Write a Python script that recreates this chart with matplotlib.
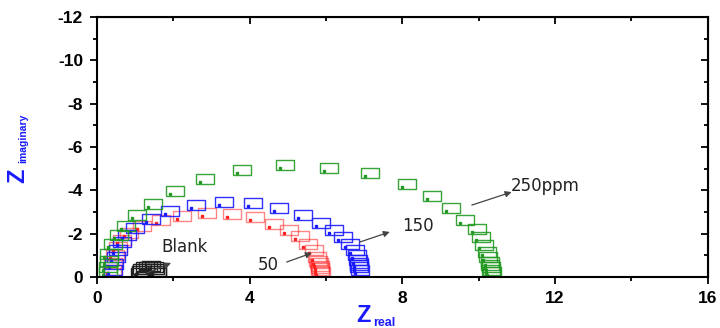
import matplotlib.pyplot as plt
from matplotlib.transforms import offset_copy
from matplotlib.ticker import MultipleLocator

plt.rcParams['axes.unicode_minus'] = False

# Nyquist data (Z_real, Z_imaginary)
blank_re = [1.00, 1.02, 1.06, 1.12, 1.20, 1.28, 1.35, 1.40, 1.43, 1.45]
blank_im = [-0.05, -0.15, -0.24, -0.30, -0.34, -0.35, -0.32, -0.25, -0.15, -0.05]

c50_re = [0.26, 0.29, 0.34, 0.42, 0.52, 0.71, 1.05, 1.54, 2.09, 2.75, 3.40, 4.01,
          4.50, 4.90, 5.18, 5.39, 5.55, 5.63, 5.66, 5.68, 5.70, 5.71, 5.72, 5.73]
c50_im = [-0.18, -0.51, -0.88, -1.25, -1.57, -1.89, -2.22, -2.49, -2.68, -2.82, -2.77, -2.63,
          -2.31, -2.03, -1.75, -1.38, -1.11, -0.78, -0.62, -0.51, -0.38, -0.28, -0.18, -0.09]

c150_re = [0.29, 0.31, 0.37, 0.42, 0.52, 0.65, 0.86, 1.28, 1.78, 2.46, 3.19, 3.95,
           4.63, 5.26, 5.73, 6.07, 6.31, 6.49, 6.62, 6.68, 6.70, 6.72, 6.73, 6.74, 6.75]
c150_im = [-0.18, -0.46, -0.78, -1.11, -1.48, -1.80, -2.12, -2.54, -2.91, -3.18, -3.32, -3.28,
           -3.05, -2.72, -2.35, -2.03, -1.71, -1.38, -1.11, -0.88, -0.65, -0.52, -0.42, -0.30, -0.18]

c250_re = [0.16, 0.16, 0.18, 0.18, 0.29, 0.45, 0.63, 0.92, 1.34, 1.91, 2.70, 3.66, 4.79,
           5.94, 7.02, 7.98, 8.64, 9.14, 9.50, 9.82, 9.92, 10.00, 10.08, 10.10, 10.16,
           10.17, 10.18, 10.20, 10.21]
c250_im = [-0.09, -0.32, -0.60, -0.92, -1.38, -1.80, -2.22, -2.72, -3.23, -3.83, -4.38, -4.80, -5.03,
           -4.89, -4.66, -4.15, -3.60, -3.05, -2.49, -2.08, -1.71, -1.34, -1.02, -0.78, -0.55,
           -0.43, -0.32, -0.20, -0.09]

series = [
    (blank_re, blank_im, '#222222', 1.0),
    (c50_re, c50_im, '#ff2020', 0.55),
    (c150_re, c150_im, '#1a1aff', 0.9),
    (c250_re, c250_im, '#229922', 0.9),
]

notes = [
    ('Blank', (2.30, -1.38), (1.94, -0.65), (1.31, -0.18)),
    ('50', (4.48, -0.55), (5.63, -1.11), (4.97, -0.69)),
    ('150', (8.40, -2.35), (7.67, -2.08), (6.88, -1.61)),
    ('250ppm', (11.73, -4.20), (10.86, -3.92), (9.82, -3.32)),
]

fig = plt.figure(figsize=(7.2, 3.28), dpi=100)
ax = fig.add_axes([0.1347, 0.1555, 0.8483, 0.7925])

rect = [(-1, -0.58), (1, -0.58), (1, 0.58), (-1, 0.58), (-1, -0.58)]
shifted = offset_copy(ax.transData, fig=fig, x=5, y=3, units='dots')

for re, im, col, a in series:
    ax.plot(re, im, ls='none', marker=rect, ms=13, mfc='none', mec=col,
            mew=1.0, alpha=a, transform=shifted)
    ax.plot(re, im, ls='none', marker='s', ms=1.8, mfc=col, mec=col)

for txt, pos, head, tail in notes:
    ax.annotate('', xy=head, xytext=tail,
                arrowprops=dict(arrowstyle='-|>', color='#444444', lw=0.9,
                                mutation_scale=9, shrinkA=0, shrinkB=0))
    ax.text(pos[0], pos[1], txt, fontsize=12, color='#222222', ha='center',
            va='center', family='DejaVu Sans')

ax.set_xlim(0, 16)
ax.set_ylim(0, -12)
ax.xaxis.set_major_locator(MultipleLocator(4))
ax.xaxis.set_minor_locator(MultipleLocator(2))
ax.yaxis.set_major_locator(MultipleLocator(2))
ax.yaxis.set_minor_locator(MultipleLocator(1))

for s in ax.spines.values():
    s.set_linewidth(1.5)
ax.tick_params(which='both', direction='out', width=1.3, labelsize=12.5, pad=5)
ax.tick_params(which='major', length=5)
ax.tick_params(which='minor', length=3)
for lab in ax.get_xticklabels() + ax.get_yticklabels():
    lab.set_fontweight('bold')
    lab.set_family('Liberation Sans')

# inward mirror ticks on top and right
top = ax.secondary_xaxis('top')
top.set_xticks([0, 4, 8, 12, 16])
top.xaxis.set_minor_locator(MultipleLocator(2))
top.tick_params(which='both', direction='in', labeltop=False, width=1.3)
top.tick_params(which='major', length=5)
top.tick_params(which='minor', length=3)
right = ax.secondary_yaxis('right')
right.yaxis.set_major_locator(MultipleLocator(2))
right.yaxis.set_minor_locator(MultipleLocator(1))
right.tick_params(which='both', direction='in', labelright=False, width=1.3)
right.tick_params(which='major', length=5)
right.tick_params(which='minor', length=3)

# axis titles: big Z with small bold subscript
blue = '#1a1aff'
fig.text(18 / 720, 1 - 176 / 328, 'Z', rotation=90, color=blue, fontsize=17,
         fontweight='bold', family='Liberation Sans', ha='center', va='center')
fig.text(23 / 720, 1 - 138 / 328, 'imaginary', rotation=90, color=blue, fontsize=7.5,
         fontweight='bold', family='Liberation Sans', ha='center', va='center')
fig.text(363 / 720, 1 - 316 / 328, 'Z', color=blue, fontsize=17,
         fontweight='bold', family='Liberation Sans', ha='center', va='center')
fig.text(373 / 720, 1 - 323 / 328, 'real', color=blue, fontsize=9,
         fontweight='bold', family='Liberation Sans', ha='left', va='center')

fig.savefig('out.png', dpi=100)
